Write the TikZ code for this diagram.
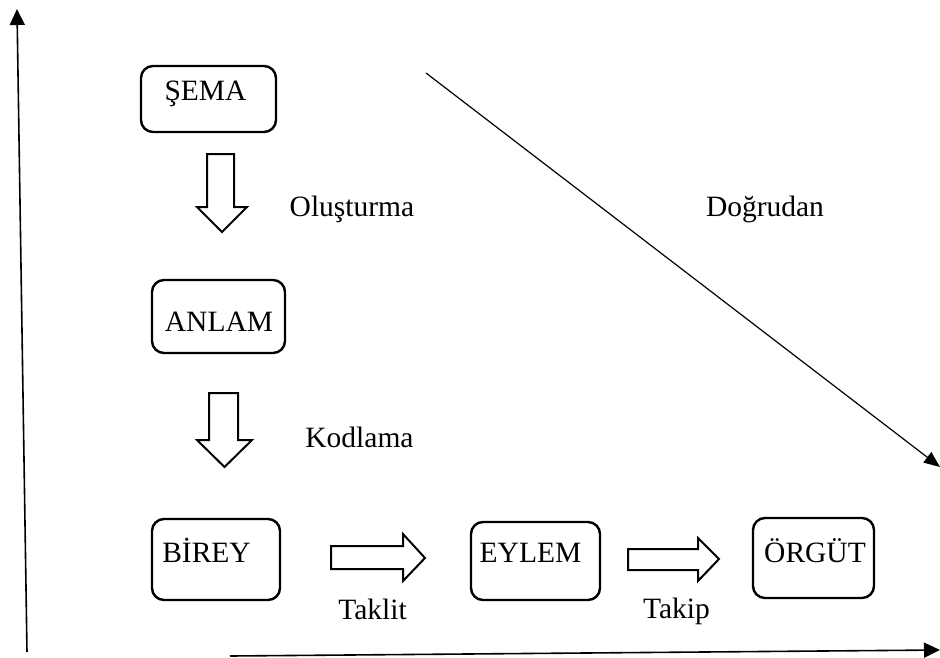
\documentclass[tikz,border=0pt]{standalone}
\usepackage{fontspec}
\setmainfont{Liberation Serif}
\usetikzlibrary{arrows.meta}
\tikzset{
  box/.style={draw, line width=2.4pt, rounded corners=12pt, inner sep=0pt},
  lbl/.style={font=\fontsize{29.5}{35}\selectfont, inner sep=0pt, anchor=base},
  blockarrow/.style={draw, line width=2pt, fill=white, line join=miter},
  axis/.style={line width=1.6pt, -{Triangle[width=15pt,length=16pt]}},
  diag/.style={line width=1.2pt, -{Triangle[width=13pt,length=16pt]}}
}
\begin{document}
\begin{tikzpicture}[x=1pt,y=-1pt]
\useasboundingbox (0,0) rectangle (940,657);
% boxes
\draw[box] (141,66) rectangle (276,132);
\node[lbl] (sema) at (205.5,100) {ŞEMA};
\draw[box] (152,280) rectangle (285,353);
\node[lbl] (anlam) at (219,331) {ANLAM};
\draw[box] (152,519) rectangle (280,600);
\node[lbl] (birey) at (206.5,562) {BİREY};
\draw[box] (471,522) rectangle (600,600);
\node[lbl] (eylem) at (530.5,562) {EYLEM};
\draw[box] (753,518) rectangle (874,598);
\node[lbl] (orgut) at (815,562) {ÖRGÜT};
% labels
\node[lbl] (olus) at (352,216) {Oluşturma};
\node[lbl] (dogru) at (765,216) {Doğrudan};
\node[lbl] (kod) at (359.5,447) {Kodlama};
\node[lbl] (taklit) at (372.5,619) {Taklit};
\node[lbl] (takip) at (676.5,618) {Takip};
% block arrows
\draw[blockarrow] (207,154) -- (234,154) -- (234,207) -- (247,207) -- (222,232) -- (197,207) -- (207,207) -- cycle;
\draw[blockarrow] (209,393) -- (238,393) -- (238,440) -- (252,440) -- (224.5,467) -- (197,440) -- (209,440) -- cycle;
\draw[blockarrow] (331,546) -- (403,546) -- (403,534) -- (425,558) -- (403,581) -- (403,569) -- (331,569) -- cycle;
\draw[blockarrow] (628,549) -- (698,549) -- (698,538) -- (719,559) -- (698,581) -- (698,570) -- (628,570) -- cycle;
% axes
\coordinate (vb) at (27,652);
\coordinate (vt) at (17,9);
\coordinate (hl) at (230,656);
\coordinate (hr) at (940,650);
\coordinate (ds) at (426,73);
\coordinate (de) at (940,467);
\draw[axis] (vb) -- (vt);
\draw[axis] (hl) -- (hr);
\draw[diag] (ds) -- (de);
\end{tikzpicture}
\end{document}
